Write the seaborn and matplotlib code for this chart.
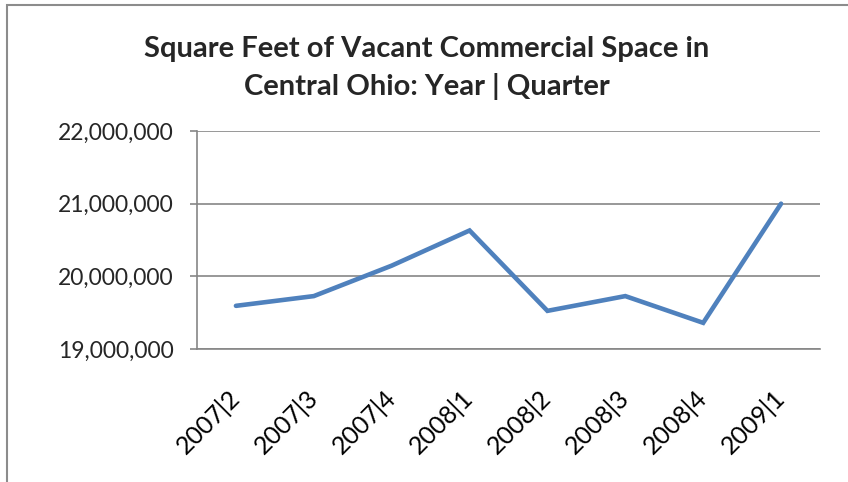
import matplotlib
matplotlib.use("Agg")
import matplotlib.pyplot as plt
import matplotlib.ticker as mticker
import seaborn as sns
import pandas as pd
import numpy as np

# dati
quarters = ["2007|2", "2007|3", "2007|4", "2008|1", "2008|2", "2008|3", "2008|4", "2009|1"]
sq_feet  = [19_594_000, 19_728_000, 20_147_000, 20_631_000, 19_525_000, 19_728_000, 19_360_000, 21_000_000]
y_ticks  = [19_000_000, 20_000_000, 21_000_000, 22_000_000]

TITLE = "Square Feet of Vacant Commercial Space in\nCentral Ohio: Year | Quarter"
LINE_COLOR = "#4F81BD"
GRID_COLOR = "#868686"

sns.set_theme(style="white")
plt.rcParams["font.family"] = ["Lato", "DejaVu Sans"]

df = pd.DataFrame({"pos": np.arange(len(quarters)), "value": sq_feet})

fig = plt.figure(figsize=(8.48, 4.82), dpi=100)
ax = fig.add_axes([197 / 848, 1 - 349 / 482, (820 - 197) / 848, (349 - 131) / 482])

sns.lineplot(data=df, x="pos", y="value", ax=ax, color=LINE_COLOR, linewidth=3.3,
             solid_capstyle="round", solid_joinstyle="miter")

# assi
ax.set_xlim(-0.5, len(quarters) - 0.5)
ax.set_ylim(y_ticks[0], y_ticks[-1])
ax.set_yticks(y_ticks)
ax.yaxis.set_major_formatter(mticker.FuncFormatter(lambda v, p: f"{int(v):,}"))
ax.set_xticks(df["pos"])
ax.set_xticklabels(quarters, rotation=45, ha="right", va="center", rotation_mode="anchor")
ax.set_xticks(np.arange(-0.5, len(quarters)), minor=True)
ax.tick_params(axis="x", which="major", length=0, pad=32, labelsize=18, colors="black")
ax.tick_params(axis="x", which="minor", length=6, width=1.2, color=GRID_COLOR, direction="out")
ax.tick_params(axis="y", which="major", length=5, width=1.2, color=GRID_COLOR,
               direction="out", pad=12, labelsize=16.5, left=True)
ax.set_xlabel("")
ax.set_ylabel("")

ax.grid(axis="y", color=GRID_COLOR, linewidth=1.2)
ax.set_axisbelow(True)
for side in ["top", "right"]:
    ax.spines[side].set_visible(False)
for side in ["left", "bottom"]:
    ax.spines[side].set_color(GRID_COLOR)
    ax.spines[side].set_linewidth(1.2)

fig.text(427 / 848, 1 - 68 / 482, TITLE, ha="center", va="center", fontsize=21,
         fontweight="bold", linespacing=1.5)

# bordo dell'area grafico
fig.patches.append(plt.Rectangle((7 / 848, -0.05), 1.0, 1 - 5 / 482 + 0.05, transform=fig.transFigure,
                                 fill=False, edgecolor="#8C8C8C", linewidth=1.5))

fig.savefig("out.png", dpi=100)
